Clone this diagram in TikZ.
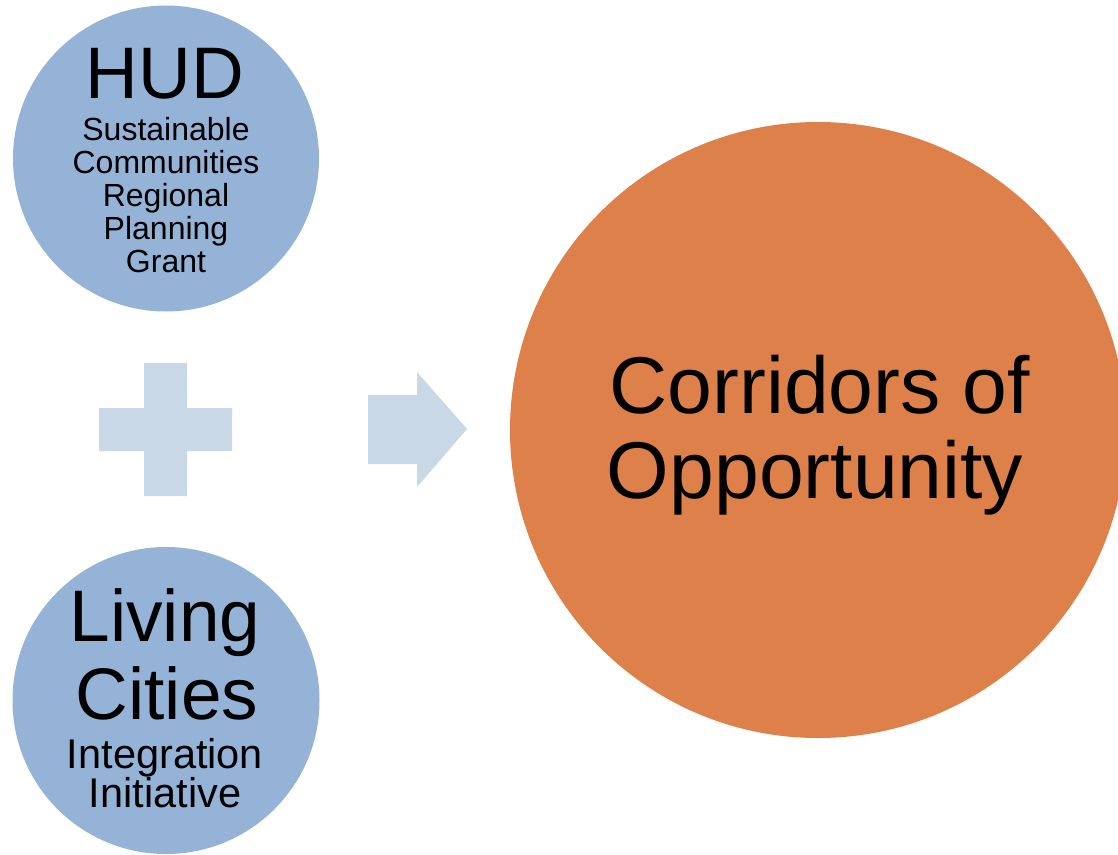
\documentclass[tikz,border=0pt]{standalone}
\usepackage{fontspec}
\setmainfont{Liberation Sans}
\definecolor{bluecirc}{HTML}{95B3D7}
\definecolor{paleblue}{HTML}{C9D8E7}
\definecolor{orangecirc}{HTML}{DE8049}
\begin{document}
\begin{tikzpicture}[x=1pt,y=-1pt,
  disc/.style={circle,inner sep=0pt,draw=none},
  big/.style={anchor=base,inner sep=0pt,font=\fontsize{73}{73}\selectfont},
  small/.style={anchor=base,inner sep=0pt,font=\fontsize{32}{32}\selectfont},
  mid/.style={anchor=base,inner sep=0pt,font=\fontsize{41.5}{41.5}\selectfont},
  huge/.style={anchor=base,inner sep=0pt,font=\fontsize{80.5}{80.5}\selectfont}]
\useasboundingbox (0,0) rectangle (1118,854);
\clip (0,0) rectangle (1118,854);
% circles
\node[disc,fill=bluecirc,minimum size=306pt] (hud) at (166,158.5) {};
\node[disc,fill=bluecirc,minimum size=307pt] (lc) at (166,700.5) {};
\node[disc,fill=orangecirc,minimum size=616pt] (co) at (818,430) {};
% plus sign
\fill[paleblue] (144,363) -- (187,363) -- (187,408) -- (232,408) -- (232,451)
  -- (187,451) -- (187,496) -- (144,496) -- (144,451) -- (99,451) -- (99,408)
  -- (144,408) -- cycle;
% arrow
\fill[paleblue] (368,395) -- (417,395) -- (417,372) -- (467,429) -- (417,487)
  -- (417,464) -- (368,464) -- cycle;
% HUD texts
\node[big] (t1) at (165,98) {HUD};
\node[small] (t2) at (166,140) {Sustainable};
\node[small] (t3) at (166,173) {Communities};
\node[small] (t4) at (166,206) {Regional};
\node[small] (t5) at (166,239) {Planning};
\node[small] (t6) at (166,272) {Grant};
% Living Cities texts
\node[big] (l1) at (165,641) {Living};
\node[big] (l2) at (167,719) {Cities};
\node[mid] (l3) at (165,768) {Integration};
\node[mid] (l4) at (165,807) {Initiative};
% Corridors texts
\node[huge] (c1) at (820,413) {Corridors of};
\node[huge] (c2) at (815,498) {Opportunity};
\end{tikzpicture}
\end{document}
